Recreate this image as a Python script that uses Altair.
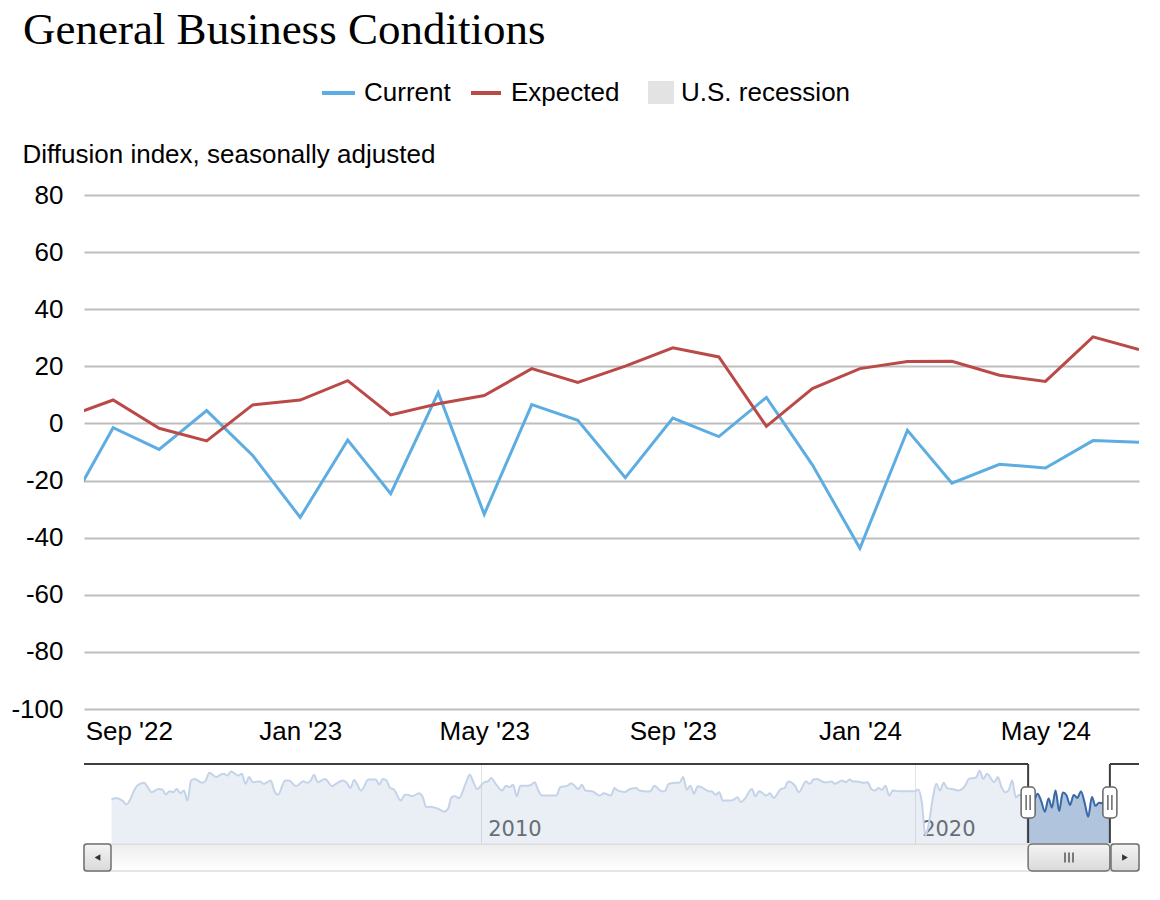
import altair as alt
import pandas as pd

# ---------------- data ----------------
months = [
    "2022-08-01", "2022-09-01", "2022-10-01", "2022-11-01", "2022-12-01",
    "2023-01-01", "2023-02-01", "2023-03-01", "2023-04-01", "2023-05-01",
    "2023-06-01", "2023-07-01", "2023-08-01", "2023-09-01", "2023-10-01",
    "2023-11-01", "2023-12-01", "2024-01-01", "2024-02-01", "2024-03-01",
    "2024-04-01", "2024-05-01", "2024-06-01", "2024-07-01",
]
current = [-31.3, -1.5, -9.1, 4.5, -11.2, -32.9, -5.8, -24.6, 10.8, -31.8,
           6.6, 1.1, -19.0, 1.9, -4.6, 9.1, -14.5, -43.7, -2.4, -20.9,
           -14.3, -15.6, -6.0, -6.6]
expected = [2.1, 8.2, -1.7, -6.1, 6.5, 8.2, 15.0, 3.0, 6.9, 9.8,
            19.2, 14.4, 20.1, 26.5, 23.3, -1.0, 12.2, 19.2, 21.7, 21.8,
            16.9, 14.7, 30.3, 25.9]

series_names = ["Current", "Expected", "U.S. recession"]
series_colors = ["#5dade2", "#b94a48", "#e3e3e3"]

y_ticks = [-100, -80, -60, -40, -20, 0, 20, 40, 60, 80]
x_ticks = ["2022-09-01", "2023-01-01", "2023-05-01", "2023-09-01",
           "2024-01-01", "2024-05-01"]
view_start, view_end = "2022-08-13", "2024-07-01"

# navigator (full history of the current index, read from the small overview)
nav_hist_dates = [
    "2001-07", "2001-08", "2001-10", "2001-11", "2002-02", "2002-04", "2002-05",
    "2002-06", "2002-08", "2002-09", "2002-10", "2002-11", "2002-12", "2003-01",
    "2003-02", "2003-03", "2003-04", "2003-05", "2003-06", "2003-08", "2003-09",
    "2003-10", "2003-12", "2004-01", "2004-02", "2004-03", "2004-04", "2004-06",
    "2004-07", "2004-08", "2004-09", "2004-10", "2004-12", "2005-01", "2005-02",
    "2005-03", "2005-04", "2005-05", "2005-07", "2005-08", "2005-10", "2005-12",
    "2006-01", "2006-02", "2006-03", "2006-04", "2006-06", "2006-08", "2006-09",
    "2006-11", "2006-12", "2007-01", "2007-02", "2007-04", "2007-06", "2007-08",
    "2007-09", "2007-10", "2007-11", "2007-12", "2008-01", "2008-03", "2008-04",
    "2008-05", "2008-06", "2008-08", "2008-09", "2008-10", "2008-11", "2009-01",
    "2009-03", "2009-04", "2009-05", "2009-06", "2009-07", "2009-09", "2009-10",
    "2009-11", "2009-12", "2010-02", "2010-03", "2010-04", "2010-05", "2010-07",
    "2010-08", "2010-09", "2010-10", "2010-11", "2010-12", "2011-02", "2011-03",
    "2011-04", "2011-05", "2011-06", "2011-08", "2011-10", "2011-11", "2012-01",
    "2012-02", "2012-03", "2012-04", "2012-05", "2012-06", "2012-08", "2012-09",
    "2012-10", "2012-11", "2013-01", "2013-02", "2013-03", "2013-05", "2013-06",
    "2013-08", "2013-09", "2013-11", "2013-12", "2014-01", "2014-03", "2014-04",
    "2014-05", "2014-07", "2014-08", "2014-09", "2014-10", "2014-11", "2014-12",
    "2015-01", "2015-02", "2015-04", "2015-05", "2015-06", "2015-07", "2015-08",
    "2015-10", "2015-11", "2015-12", "2016-01", "2016-02", "2016-04", "2016-05",
    "2016-06", "2016-07", "2016-08", "2016-09", "2016-10", "2016-12", "2017-01",
    "2017-02", "2017-04", "2017-05", "2017-07", "2017-08", "2017-09", "2017-10",
    "2017-12", "2018-01", "2018-02", "2018-03", "2018-05", "2018-06", "2018-07",
    "2018-08", "2018-09", "2018-11", "2018-12", "2019-01", "2019-02", "2019-03",
    "2019-04", "2019-05", "2019-06", "2019-07", "2019-09", "2019-11", "2020-01",
    "2020-02", "2020-03", "2020-04", "2020-05", "2020-06", "2020-07", "2020-08",
    "2020-09", "2020-10", "2020-12", "2021-01", "2021-03", "2021-04", "2021-06",
    "2021-07", "2021-08", "2021-09", "2021-11", "2021-12", "2022-01", "2022-02",
    "2022-03", "2022-04", "2022-05", "2022-06", "2022-07",
]
nav_hist_values = [
    -7.9, -4.4, -10, -18, 21, 27, 18,
    7.5, 14, 13, 2.5, 9.6, 7.5, 14,
    5.4, 10.8, -10, 31.7, 35, 27, 31.7,
    47.7, 38.8, 43.5, 45.6, 42, 50.4, 42,
    45.6, 24.8, 38.8, 28.3, 29.6, 24.8, 28.3,
    31.7, 10, 2, 31.7, 31.7, 20, 30.4,
    27, 31.7, 43.5, 28.3, 35, 20, 24.8,
    31.7, 27, 16, 33, 10.8, 33.8, 33.8,
    23.3, 35, 31.7, 16, 13, -10, 2,
    2, -1, 5.4, -3, -24, -22.5, -26,
    -33, -27, -3, -1, -5, 28.3, 43.5,
    28.3, 14, 28.3, 29.6, 36.7, 27, 10.8,
    21, 18, 22.7, -1, 21, 21, 22.7,
    28.3, 10.8, 0.4, 0.4, 0.4, 18, 21,
    26, 21, 14, 22.7, 10.8, 8.8, 4,
    0.4, 5.4, 0.4, 16, 10.8, 8, 13,
    16, 10.8, 8.8, 9.6, 21, 9.6, 9.6,
    24.8, 27, 27, 38.8, 13, 21, 4,
    20, 18, 9.6, 8.8, 2, 7.5, -10,
    -10, -8, -3, -13, -6.5, 14, -1,
    9.6, 5.4, 0.4, 5.4, -4.4, 14, 16,
    29.6, 20, 7.5, 29.6, 24.8, 33.8, 35,
    28.3, 28.3, 29.6, 24.8, 31.7, 28.3, 33.8,
    29.6, 29.6, 27, 28.3, 14, 10.8, 16,
    12.3, 21, 0.4, 10.8, 9.6, 9.6, 9.6,
    13, -13, -83, -55, -6, 24.8, 10.8,
    27, 16, 13, 10.8, 21, 35, 38,
    52, 35, 45.6, 28.3, 38.8, 18, 7.5,
    10.8, 31.7, -3, 2, -10,
]
nav_start, nav_end = "2000-11-11", "2025-03-03"
nav_ticks = ["2010-01-01", "2020-01-01"]
nav_y_domain = [-98, 66]


def dt(s):
    y, m, d = (int(p) for p in s.split("-"))
    return alt.DateTime(year=y, month=m, date=d, utc=True)


SANS = "Liberation Sans"
n = len(months)
df = pd.DataFrame({
    "date": months + months,
    "series": ["Current"] * n + ["Expected"] * n,
    "value": current + expected,
})
one = alt.Data(values=[{}])
no_frame = alt.ViewBackground(stroke=None, strokeWidth=0)

# ---------------- main chart ----------------
main_xscale = alt.Scale(type="utc", domain=[dt(view_start), dt(view_end)])
main_yscale = alt.Scale(domain=[-100, 80], nice=False, zero=False)
x_main = alt.X(
    "date:T", scale=main_xscale,
    axis=alt.Axis(
        values=[dt(t) for t in x_ticks], format="%b '%y", title=None,
        labelFont=SANS, labelFontSize=26, labelColor="#000000",
        labelFlush=30, labelFlushOffset=28, labelPadding=9,
        domain=False, ticks=False, grid=False,
    ),
)
y_main = alt.Y(
    "value:Q", scale=main_yscale,
    axis=alt.Axis(
        values=y_ticks, grid=True, gridColor="#bdbdbd", gridWidth=2,
        domain=False, ticks=False, labelFont=SANS, labelFontSize=26,
        labelColor="#000000", labelPadding=21,
        labelExpr="toString(datum.value)",
        title="Diffusion index, seasonally adjusted", titleAngle=0,
        titleAlign="left", titleBaseline="alphabetic", titleX=-62, titleY=-33,
        titleFont=SANS, titleFontSize=26, titleFontWeight="normal",
        titleColor="#000000",
    ),
)
lines = alt.Chart(df).mark_line(strokeWidth=3, clip=True).encode(
    x=x_main, y=y_main,
    color=alt.Color("series:N",
                    scale=alt.Scale(domain=series_names, range=series_colors),
                    legend=None),
)

# legend (drawn as marks above the plot area)
LEG_Y = -102
legend_layers = [
    alt.Chart(one).mark_rule(color=series_colors[0], strokeWidth=4).encode(
        x=alt.value(238), x2=alt.value(271), y=alt.value(LEG_Y)),
    alt.Chart(one).mark_text(align="left", baseline="middle", font=SANS, fontSize=26,
                             color="#000000").encode(
        x=alt.value(280), y=alt.value(LEG_Y), text=alt.value(series_names[0])),
    alt.Chart(one).mark_rule(color=series_colors[1], strokeWidth=4).encode(
        x=alt.value(387), x2=alt.value(417), y=alt.value(LEG_Y)),
    alt.Chart(one).mark_text(align="left", baseline="middle", font=SANS, fontSize=26,
                             color="#000000").encode(
        x=alt.value(427), y=alt.value(LEG_Y), text=alt.value(series_names[1])),
    alt.Chart(one).mark_rect(color=series_colors[2]).encode(
        x=alt.value(564), x2=alt.value(590), y=alt.value(LEG_Y - 12),
        y2=alt.value(LEG_Y + 11)),
    alt.Chart(one).mark_text(align="left", baseline="middle", font=SANS, fontSize=26,
                             color="#000000").encode(
        x=alt.value(597), y=alt.value(LEG_Y), text=alt.value(series_names[2])),
]

main = alt.layer(lines, *legend_layers).properties(width=1055, height=514, view=no_frame)

# ---------------- navigator ----------------
nav_df = pd.DataFrame({
    "date": [d + "-01" for d in nav_hist_dates] + months,
    "value": nav_hist_values + current,
})
nav_scale = alt.Scale(type="utc", domain=[dt(nav_start), dt(nav_end)])
nav_x = alt.X(
    "date:T", scale=nav_scale,
    axis=alt.Axis(
        values=[dt(t) for t in nav_ticks], format="%Y", title=None,
        grid=True, gridColor="#e3e3e3", gridWidth=1, domain=False, ticks=False,
        labelAlign="left", labelBaseline="alphabetic", labelOffset=7,
        labelPadding=-8, labelFont="DejaVu Sans", labelFontSize=21,
        labelColor="#666666",
    ),
)
nav_y = alt.Y("value:Q", scale=alt.Scale(domain=nav_y_domain, nice=False, zero=False), axis=None)
nav_y2 = alt.Y2(datum=nav_y_domain[0])

nav_area = alt.Chart(nav_df).mark_area(
    interpolate="monotone", fill="#7f9cc6", fillOpacity=0.16,
    line={"color": "#c4d3e8", "strokeWidth": 2},
).encode(x=nav_x, y=nav_y, y2=nav_y2)

sel_area = alt.Chart(nav_df).transform_filter(
    "time(datum.date) >= utc(2022, 7, 1)"
).mark_area(
    interpolate="monotone", fill="#b0c4de", fillOpacity=1,
    line={"color": "#3a69a8", "strokeWidth": 2},
).encode(x=alt.X("date:T", scale=nav_scale), y=nav_y, y2=nav_y2)

OUT = "#3d3d3d"


def xd(s):
    return alt.X(datum=dt(s), type="temporal", scale=nav_scale)


def x2d(s):
    return alt.X2(datum=dt(s))


NAV_H = 79
outline = [
    alt.Chart(one).mark_rule(color=OUT, strokeWidth=2).encode(
        x=xd(nav_start), x2=x2d(view_start), y=alt.value(0)),
    alt.Chart(one).mark_rule(color=OUT, strokeWidth=2).encode(
        x=xd(view_end), x2=x2d(nav_end), y=alt.value(0)),
    alt.Chart(one).mark_rule(color=OUT, strokeWidth=2).encode(
        x=xd(view_start), y=alt.value(0), y2=alt.value(NAV_H)),
    alt.Chart(one).mark_rule(color=OUT, strokeWidth=2).encode(
        x=xd(view_end), y=alt.value(0), y2=alt.value(NAV_H)),
]

btn_grad = alt.LinearGradient(
    gradient="linear", x1=0, x2=0, y1=0, y2=1,
    stops=[alt.GradientStop(color="#f4f4f4", offset=0),
           alt.GradientStop(color="#d9d9d9", offset=1)])
track_grad = alt.LinearGradient(
    gradient="linear", x1=0, x2=0, y1=0, y2=1,
    stops=[alt.GradientStop(color="#eeeeee", offset=0),
           alt.GradientStop(color="#ffffff", offset=1)])

SB_T, SB_B = NAV_H + 1, NAV_H + 28
SB_MID = (SB_T + SB_B) / 2
scroll = [
    alt.Chart(one).mark_rect(fill=track_grad, stroke="#cccccc", strokeWidth=1).encode(
        x=xd(nav_start), x2=x2d(nav_end), y=alt.value(SB_T), y2=alt.value(SB_B)),
    alt.Chart(one).mark_rect(fill=btn_grad, stroke="#707070", strokeWidth=1.5,
                             cornerRadius=3, x2Offset=27).encode(
        x=xd(nav_start), x2=x2d(nav_start), y=alt.value(SB_T), y2=alt.value(SB_B)),
    alt.Chart(one).mark_point(shape="triangle-left", filled=True, color="#333333",
                              opacity=1, size=45, xOffset=13.5).encode(
        x=xd(nav_start), y=alt.value(SB_MID)),
    alt.Chart(one).mark_rect(fill=btn_grad, stroke="#707070", strokeWidth=1.5,
                             cornerRadius=3, xOffset=-28).encode(
        x=xd(nav_end), x2=x2d(nav_end), y=alt.value(SB_T), y2=alt.value(SB_B)),
    alt.Chart(one).mark_point(shape="triangle-right", filled=True, color="#333333",
                              opacity=1, size=45, xOffset=-14).encode(
        x=xd(nav_end), y=alt.value(SB_MID)),
    alt.Chart(one).mark_rect(fill=btn_grad, stroke="#707070", strokeWidth=1.5,
                             cornerRadius=4).encode(
        x=xd(view_start), x2=x2d(view_end), y=alt.value(SB_T), y2=alt.value(SB_B)),
]
mid = (pd.Timestamp(view_start) + (pd.Timestamp(view_end) - pd.Timestamp(view_start)) / 2).strftime("%Y-%m-%d")
for off in (-4, 0, 4):
    scroll.append(
        alt.Chart(one).mark_rule(color="#555555", strokeWidth=1.5, xOffset=off).encode(
            x=xd(mid), y=alt.value(SB_MID - 5), y2=alt.value(SB_MID + 5)))

handles = []
for s in (view_start, view_end):
    handles.append(
        alt.Chart(one).mark_rect(fill="#ffffff", stroke="#666666", strokeWidth=1.5,
                                 cornerRadius=4, xOffset=-7, x2Offset=7).encode(
            x=xd(s), x2=x2d(s), y=alt.value(23), y2=alt.value(54)))
    for off in (-2, 2):
        handles.append(
            alt.Chart(one).mark_rule(color="#666666", strokeWidth=1.5, xOffset=off).encode(
                x=xd(s), y=alt.value(31), y2=alt.value(46)))

nav = alt.layer(nav_area, sel_area, *outline, *scroll, *handles).properties(
    width=1055, height=NAV_H, view=no_frame)

chart = alt.vconcat(main, nav, spacing=19).properties(
    title=alt.TitleParams(
        "General Business Conditions", anchor="start", font="Liberation Serif",
        fontSize=45, fontWeight="normal", color="#000000", offset=27, dx=12),
    padding={"left": 2, "top": 0, "right": 5, "bottom": 5},
).configure_view(stroke=None, strokeWidth=0).configure(font=SANS)

chart.save("out.html", embed_options={"renderer": "svg", "actions": False})
